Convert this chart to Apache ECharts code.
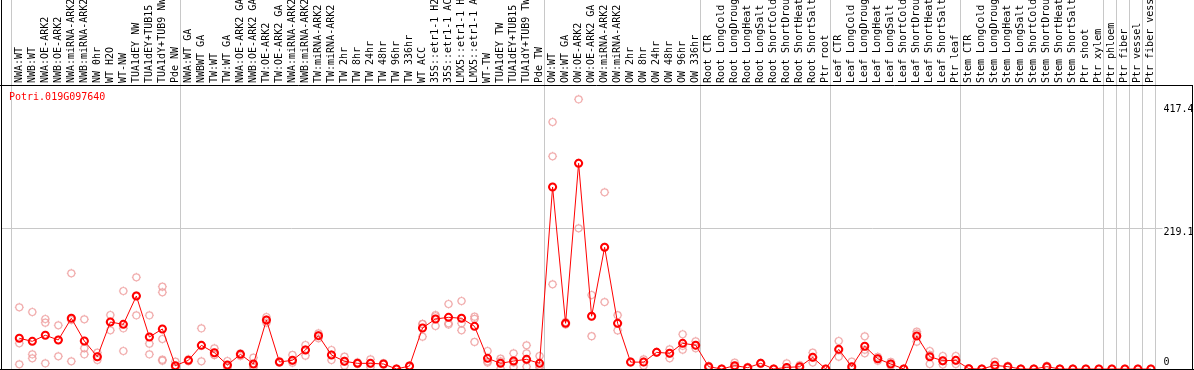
<!DOCTYPE html>
<html><head><meta charset="utf-8">
<script src="https://cdn.jsdelivr.net/npm/echarts@6/dist/echarts.min.js"></script>
<style>html,body{margin:0;padding:0;background:#fff}#c{width:1194px;height:370px}</style>
</head><body><div id="c"></div>
<script>
const geneName = 'Potri.019G097640';

const categories = [
  'NWA:WT','NWB:WT','NWA:OE-ARK2','NWB:OE-ARK2','NWA:miRNA-ARK2','NWB:miRNA-ARK2','NW 0hr','WT H2O','WT-NW','TUA1dEY NW','TUA1dEY+TUB15','TUA1dY+TUB9 NW','Pde NW',
  'NWA:WT GA','NWBWT GA','TW:WT','TW:WT GA','NWA:OE-ARK2 GA','NWB:OE-ARK2 GA','TW:OE-ARK2','TW:OE-ARK2 GA','NWA:miRNA-ARK2','NWB:miRNA-ARK2','TW:miRNA-ARK2','TW:miRNA-ARK2','TW 2hr','TW 8hr','TW 24hr','TW 48hr','TW 96hr','TW 336hr','WT ACC','35S::etr1-1 H2O','35S::etr1-1 ACC','LMX5::etr1-1 H2O','LMX5::etr1-1 ACC','WT-TW','TUA1dEY TW','TUA1dEY+TUB15','TUA1dY+TUB9 TW','Pde TW',
  'OW:WT','OW:WT GA','OW:OE-ARK2','OW:OE-ARK2 GA','OW:miRNA-ARK2','OW:miRNA-ARK2','OW 2hr','OW 8hr','OW 24hr','OW 48hr','OW 96hr','OW 336hr',
  'Root CTR','Root LongCold','Root LongDrought','Root LongHeat','Root LongSalt','Root ShortCold','Root ShortDrought','Root ShortHeat','Root ShortSalt','Ptr root',
  'Leaf CTR','Leaf LongCold','Leaf LongDrought','Leaf LongHeat','Leaf LongSalt','Leaf ShortCold','Leaf ShortDrought','Leaf ShortHeat','Leaf ShortSalt','Ptr leaf',
  'Stem CTR','Stem LongCold','Stem LongDrought','Stem LongHeat','Stem LongSalt','Stem ShortCold','Stem ShortDrought','Stem ShortHeat','Stem ShortSalt','Ptr shoot','Ptr xylem',
  'Ptr phloem','Ptr fiber','Ptr vessel','Ptr fiber vessel'
];

// first category index of each separated block (vertical grid lines)
const groupStarts = [0, 13, 41, 53, 63, 73, 84, 85, 86, 87];

const means = [
  47.7, 43.0, 52.4, 45.1, 78.8, 43.5, 19.1, 73.0, 69.4, 113.4, 49.7, 62.2, 5.2,
  13.5, 36.8, 25.3, 6.2, 22.8, 7.8, 76.1, 10.9, 13.5, 29.5, 51.8, 21.8, 12.0, 8.8, 8.8, 7.8, 0, 4.7, 63.7, 77.7, 80.3, 78.8, 66.3, 16.6, 8.8, 12.4, 15.0, 8.8,
  282.8, 71.0, 319.6, 82.0, 189.1, 71.0, 10.7, 10.7, 25.9, 24.4, 39.9, 37.0,
  3.6, 0, 5.2, 2.1, 8.8, 0, 2.5, 3.5, 18.1, 0,
  30.6, 3.6, 35.3, 16.0, 7.8, 0, 51.3, 19.1, 12.9, 13.5,
  0.5, 0, 5.7, 3.6, 0, 0, 3.6, 0, 0, 0, 0,
  0, 0, 0, 0
];

const replicates = [
  [95.9, 39.9, 7.3], [88.6, 22.8, 16.6], [77.7, 72.0, 8.8], [67.9, 45.0, 19.7], [148.7, 76.0, 12.0],
  [77.2, 32.2, 22.8], [25.3, 19.0, 14.0], [83.9, 73.0, 60.1], [121.2, 63.2, 28.0], [142.5, 114.0, 83.4],
  [83.4, 39.3, 22.8], [127.9, 119.2, 46.6, 14.5, 13.0], [11.4, 3.0, 1.0],
  [15.0, 12.0], [63.2, 36.0, 12.0], [32.2, 21.8, 22.0], [12.4, 4.0, 2.0], [20.2, 24.0, 24.0],
  [17.6, 4.0, 2.0], [80.8, 76.0, 72.0], [12.0, 10.0, 10.0], [21.8, 13.0, 9.9], [37.3, 30.0, 20.7],
  [55.5, 52.0, 47.7], [29.5, 22.0, 14.0], [19.1, 12.0, 5.2], [10.4, 8.0, 8.0], [15.0, 8.0, 3.0],
  [9.0, 8.0, 7.0], [0, 0, 0], [3.6, 5.0, 5.0], [69.9, 70.0, 50.2], [83.9, 82.0, 66.8],
  [101.0, 71.0, 69.0], [105.7, 71.0, 60.1], [81.3, 78.0, 42.0], [28.0, 12.0, 10.0], [16.0, 12.0, 0],
  [24.4, 10.0, 3.0], [36.8, 24.4, 14.0, 3.6], [20.2, 5.0, 2.0],
  [383.8, 330.5, 131.6], [69.0, 71.0, 73.0], [419.0, 218.6, 320.0], [115.0, 82.0, 51.0], [274.6, 189.0, 104.0],
  [83.6, 71.0, 60.0], [10.0, 11.0, 11.0], [15.0, 11.0, 5.2], [26.0, 26.0, 26.0], [30.6, 24.0, 16.6],
  [54.0, 36.0, 30.0], [43.0, 36.0, 32.2],
  [5.0, 3.0, 2.0], [0, 0, 0], [9.9, 4.0, 2.0], [3.0, 2.0, 1.0], [9.0, 9.0, 8.0],
  [0, 0, 0], [8.8, 0, 0], [6.0, 3.0, 1.5], [25.3, 18.0, 10.0], [0],
  [43.5, 29.0, 19.1], [11.4, 0, 0], [50.8, 30.0, 24.4], [19.0, 16.0, 13.0], [11.0, 8.0, 5.0],
  [0, 0, 0], [58.0, 55.0, 42.5], [28.0, 22.0, 7.8], [20.2, 12.0, 7.0], [20.2, 13.0, 7.8],
  [0.5, 0.5, 0.5], [0, 0, 0], [11.4, 4.0, 2.0], [5.0, 3.0, 3.0], [0, 0, 0],
  [0, 0, 0], [5.0, 4.0, 2.0], [0, 0, 0], [0, 0, 0], [0], [0],
  [0], [0], [0], [0]
];

const yTickValues = [0, 219.1, 417.4];
const yTickLabels = ['0', '219.1', '417.4'];
const yGridLines = [219.1];
const yMax = 441.3;

const FONT = 'DejaVu Sans Mono';
const markerPath = 'path://M-3.5,0A3.5,3.5,0,1,1,3.5,0A3.5,3.5,0,1,1,-3.5,0ZM0,-4.5L0,-3.5M0,3.5L0,4.5M-4.5,0L-3.5,0M3.5,0L4.5,0';

const repData = [];
replicates.forEach((arr, i) => arr.forEach(v => repData.push([i, v])));

const labelStyles = ['z', 'm', 't'];
const chart = echarts.init(document.getElementById('c'), null, {renderer: 'canvas'});
chart.setOption({
  animation: false,
  backgroundColor: '#fff',
  title: {
    text: geneName, left: 9, top: 92, padding: 0,
    textStyle: {color: '#ff0000', fontSize: 10, fontFamily: FONT, fontWeight: 'normal'}
  },
  grid: [
    {left: 12.8, top: 85, width: 1144.6, height: 284, outerBoundsMode: 'none', containLabel: false},
    {left: 11, top: 0, width: 1144.6, height: 369, outerBoundsMode: 'none', containLabel: false},
    {left: 1.5, top: 85, width: 1161, height: 284, outerBoundsMode: 'none', containLabel: false}
  ],
  xAxis: [
    {
      gridIndex: 0, type: 'category', position: 'top', data: categories, boundaryGap: true,
      axisLine: {show: false}, axisTick: {show: false}, splitLine: {show: false},
      axisLabel: {interval: 0, rotate: 90, margin: 2, fontSize: 10, fontFamily: FONT, color: '#000'}
    },
    {
      gridIndex: 1, type: 'category', data: categories, boundaryGap: true,
      axisLine: {show: false}, axisTick: {show: false}, axisLabel: {show: false},
      splitLine: {show: true, interval: (idx) => groupStarts.indexOf(idx) >= 0,
        lineStyle: {color: '#c8c8c8', width: 1}}
    },
    {
      gridIndex: 2, type: 'value', min: 0, max: 1, show: false
    }
  ],
  yAxis: [
    {gridIndex: 0, type: 'value', min: 0, max: yMax, show: false},
    {gridIndex: 1, type: 'value', min: 0, max: 1, show: false},
    {
      gridIndex: 2, type: 'value', min: 0, max: yMax, position: 'right',
      axisLine: {show: false},
      axisTick: {show: false, customValues: yGridLines},
      splitLine: {show: true, lineStyle: {color: '#c8c8c8', width: 1}},
      axisLabel: {
        customValues: yTickValues, margin: 1, fontSize: 10, fontFamily: FONT, color: '#000',
        formatter: (v) => {
          const k = yTickValues.indexOf(v);
          return '{' + labelStyles[k] + '|' + yTickLabels[k] + '}';
        },
        rich: {
          z: {fontSize: 10, fontFamily: FONT, color: '#000', padding: [0, 0, 14, 0]},
          m: {fontSize: 10, fontFamily: FONT, color: '#000', padding: [8, 0, 0, 0]},
          t: {fontSize: 10, fontFamily: FONT, color: '#000', padding: [18, 0, 0, 0]}
        }
      }
    }
  ],
  graphic: [
    {type: 'line', silent: true, z: 10, shape: {x1: 1.5, y1: 0, x2: 1.5, y2: 370}, style: {stroke: '#000', lineWidth: 1}},
    {type: 'line', silent: true, z: 10, shape: {x1: 0, y1: 85.5, x2: 1193, y2: 85.5}, style: {stroke: '#000', lineWidth: 1}},
    {type: 'line', silent: true, z: 10, shape: {x1: 1192.5, y1: 85, x2: 1192.5, y2: 370}, style: {stroke: '#000', lineWidth: 1}},
    {type: 'line', silent: true, z: 10, shape: {x1: 0, y1: 369.5, x2: 1194, y2: 369.5}, style: {stroke: '#000', lineWidth: 1}}
  ],
  series: [
    {
      type: 'scatter', xAxisIndex: 0, yAxisIndex: 0, data: repData,
      symbol: markerPath, symbolSize: 9,
      itemStyle: {color: 'none', borderColor: '#ee9a9a', borderWidth: 1.2},
      z: 2
    },
    {
      type: 'line', xAxisIndex: 0, yAxisIndex: 0, data: means,
      showAllSymbol: true, symbol: markerPath, symbolSize: 9,
      itemStyle: {color: 'none', borderColor: '#ff0000', borderWidth: 2},
      lineStyle: {color: '#ff0000', width: 1},
      z: 3
    }
  ]
});
</script></body></html>
